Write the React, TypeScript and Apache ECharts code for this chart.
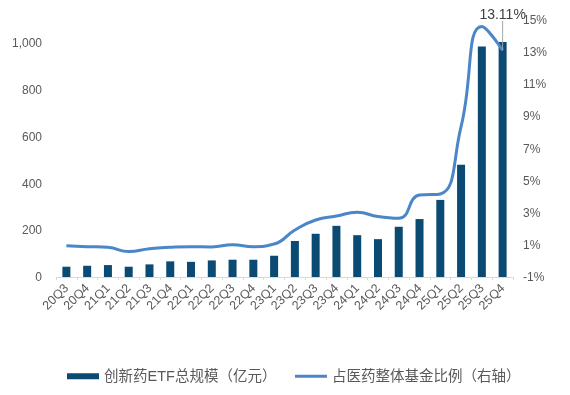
import React, { useEffect, useRef } from "react";
import * as echarts from "echarts";

const categories = ["20Q3","20Q4","21Q1","21Q2","21Q3","21Q4","22Q1","22Q2","22Q3","22Q4","23Q1","23Q2","23Q3","23Q4","24Q1","24Q2","24Q3","24Q4","25Q1","25Q2","25Q3","25Q4"];
const etfScale = [44,48,51,44,54,67,65,71,74,74,91,154,185,219,179,162,215,248,330,480,987,1006];
const ratio = [0.95,0.89,0.85,0.58,0.76,0.85,0.89,0.87,1.01,0.89,1.05,1.93,2.55,2.80,3.03,2.76,2.65,4.10,4.17,8.36,14.6,13.11];
const barName = "创新药ETF总规模（亿元）";
const lineName = "占医药整体基金比例（右轴）";

export default function App() {
  const ref = useRef<HTMLDivElement>(null);
  useEffect(() => {
    const chart = echarts.init(ref.current!, null, { renderer: "svg" });
    const font = "Arial, 'Liberation Sans', 'Noto Sans CJK SC', sans-serif";
    const last = ratio.length - 1;
    const legendText = { color: "#595959", fontSize: 14.5, fontFamily: font };
    chart.setOption({
      animation: false,
      textStyle: { fontFamily: font },
      grid: { left: 56, right: 57, top: 20, bottom: 118 },
      legend: [
        {
          left: 62,
          top: 364,
          itemWidth: 32,
          itemHeight: 6,
          itemGap: 3,
          textStyle: legendText,
          data: [{ name: barName, icon: "rect" }],
        },
        {
          left: 290,
          top: 364,
          itemWidth: 32,
          itemHeight: 3,
          itemGap: 3,
          textStyle: legendText,
          data: [{ name: lineName, icon: "rect" }],
        },
      ],
      xAxis: {
        type: "category",
        data: categories,
        axisLine: { lineStyle: { color: "#d9d9d9" } },
        axisTick: { show: true, length: 3, lineStyle: { color: "#d9d9d9" } },
        axisLabel: { rotate: 45, fontSize: 12.5, color: "#595959", margin: 9, interval: 0 },
      },
      yAxis: [
        {
          type: "value",
          min: 0,
          max: 1100,
          interval: 100,
          splitLine: { show: false },
          axisLine: { show: false },
          axisTick: { show: false },
          axisLabel: {
            fontSize: 12,
            color: "#595959",
            margin: 14,
            formatter: (v: number) =>
              v % 200 === 0 ? v.toString().replace(/\B(?=(\d{3})+(?!\d))/g, ",") : "",
          },
        },
        {
          type: "value",
          min: -1,
          max: 15,
          interval: 1,
          splitLine: { show: false },
          axisLine: { show: false },
          axisTick: { show: false },
          axisLabel: {
            fontSize: 12,
            color: "#595959",
            margin: 10,
            formatter: (v: number) => (Math.abs(v % 2) === 1 ? `${v}%` : ""),
          },
        },
      ],
      series: [
        {
          name: barName,
          type: "bar",
          data: etfScale,
          barWidth: 8,
          itemStyle: { color: "#0b4a72" },
        },
        {
          name: lineName,
          type: "line",
          yAxisIndex: 1,
          data: ratio.map((v, i) =>
            i === last
              ? {
                  value: v,
                  label: {
                    show: true,
                    position: "top",
                    formatter: `${v.toFixed(2)}%`,
                    fontSize: 14,
                    color: "#404040",
                  },
                  labelLine: { show: true, lineStyle: { color: "#a6a6a6", width: 1 } },
                }
              : v
          ),
          smooth: true,
          symbol: "circle",
          showSymbol: true,
          symbolSize: (_v: any, p: any) => (p.dataIndex === last ? 1 : 0),
          lineStyle: { width: 3, color: "#4a86c8" },
          itemStyle: { color: "#4a86c8" },
          labelLayout: (p: any) => (p.dataIndex === last ? { dy: -24 } : {}),
        },
      ],
    });
    return () => chart.dispose();
  }, []);
  return (
    <div
      ref={ref}
      style={{ position: "fixed", left: 0, top: 0, width: 570, height: 395 }}
    />
  );
}
